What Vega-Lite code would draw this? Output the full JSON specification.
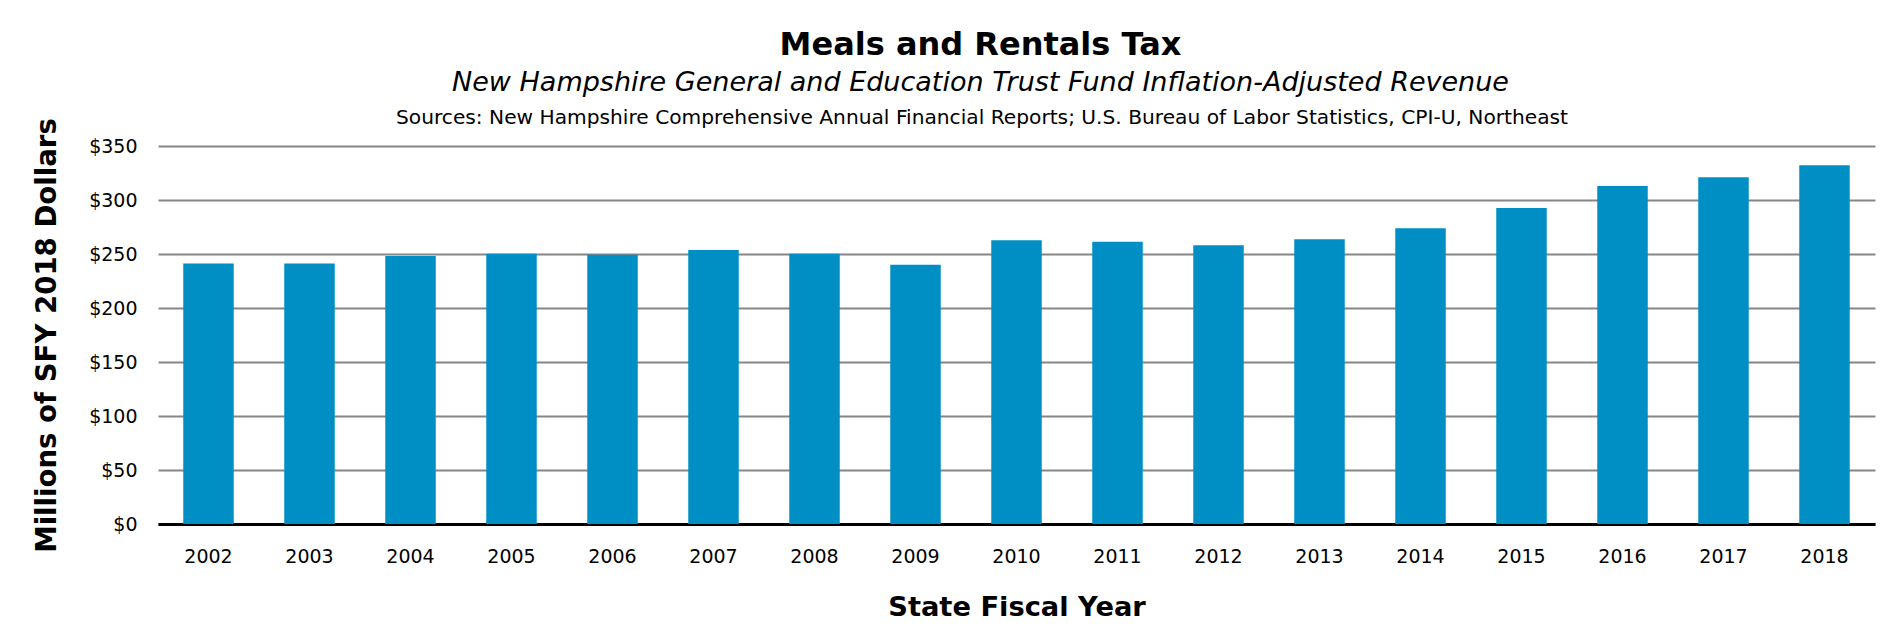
{
  "$schema": "https://vega.github.io/schema/vega-lite/v6.json",
  "width": 1717,
  "height": 378,
  "autosize": "none",
  "padding": {"left": 158, "top": 146, "right": 23, "bottom": 111},
  "background": "white",
  "config": {"font": "DejaVu Sans", "view": {"stroke": null}},
  "title": {
    "text": "Meals and Rentals Tax",
    "subtitle": "New Hampshire General and Education Trust Fund Inflation-Adjusted Revenue",
    "fontSize": 32,
    "fontWeight": "bold",
    "color": "#000000",
    "subtitleFontSize": 27,
    "subtitleFontStyle": "italic",
    "subtitleColor": "#000000",
    "subtitlePadding": 8.4,
    "anchor": "middle",
    "dx": -36,
    "offset": 10.4
  },
  "data": {
    "values": [
      {"year": "2002", "revenue": 241.3},
      {"year": "2003", "revenue": 241.3},
      {"year": "2004", "revenue": 248.1},
      {"year": "2005", "revenue": 250.2},
      {"year": "2006", "revenue": 249.3},
      {"year": "2007", "revenue": 253.6},
      {"year": "2008", "revenue": 250.2},
      {"year": "2009", "revenue": 240.1},
      {"year": "2010", "revenue": 262.8},
      {"year": "2011", "revenue": 261.3},
      {"year": "2012", "revenue": 258.0},
      {"year": "2013", "revenue": 263.6},
      {"year": "2014", "revenue": 273.8},
      {"year": "2015", "revenue": 292.6},
      {"year": "2016", "revenue": 313.0},
      {"year": "2017", "revenue": 321.0},
      {"year": "2018", "revenue": 332.1}
    ]
  },
  "layer": [
    {
      "mark": {"type": "bar", "color": "#008FC4"},
      "encoding": {
        "x": {
          "field": "year",
          "type": "ordinal",
          "scale": {"paddingInner": 0.5, "paddingOuter": 0.25},
          "axis": {
            "title": "State Fiscal Year",
            "titleFontSize": 27.3,
            "titleFontWeight": "bold",
            "titleColor": "#000000",
            "titlePadding": 27.5,
            "labelAngle": 0,
            "labelFontSize": 19,
            "labelColor": "#000000",
            "labelPadding": 23,
            "ticks": false,
            "tickSize": 0,
            "domain": true,
            "domainColor": "#000000",
            "domainWidth": 3
          }
        },
        "y": {
          "field": "revenue",
          "type": "quantitative",
          "scale": {"domain": [0, 350], "nice": false},
          "axis": {
            "title": "Millions of SFY 2018 Dollars",
            "titleFontSize": 27.6,
            "titleFontWeight": "bold",
            "titleColor": "#000000",
            "titlePadding": 27,
            "values": [0, 50, 100, 150, 200, 250, 300, 350],
            "format": "$,.0f",
            "labelFontSize": 19,
            "labelColor": "#000000",
            "labelPadding": 21,
            "ticks": false,
            "tickSize": 0,
            "domain": false,
            "grid": true,
            "gridColor": "#868686",
            "gridWidth": 2
          }
        }
      }
    },
    {
      "mark": {"type": "bar", "opacity": 0},
      "encoding": {
        "x": {
          "field": "year",
          "type": "ordinal",
          "axis": {
            "orient": "top",
            "labels": false,
            "ticks": false,
            "domain": false,
            "grid": false,
            "title": "Sources: New Hampshire Comprehensive Annual Financial Reports; U.S. Bureau of Labor Statistics, CPI-U, Northeast",
            "titleFontSize": 20.2,
            "titleFontWeight": "normal",
            "titleColor": "#000000",
            "titlePadding": 22.5,
            "titleBaseline": "alphabetic",
            "titleX": 823.5
          }
        }
      }
    }
  ],
  "resolve": {"axis": {"x": "independent"}}
}
